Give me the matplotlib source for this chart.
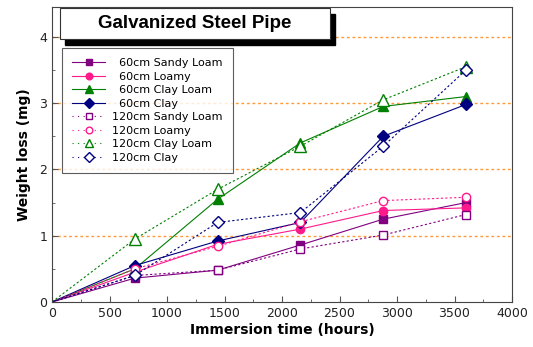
import matplotlib
matplotlib.use('Agg')
import matplotlib.pyplot as plt
from matplotlib.patches import Rectangle

hours = [0, 720, 1440, 2160, 2880, 3600]

# weight loss (mg) per soil type and burial depth
sandy60 = [0, 0.36, 0.48, 0.86, 1.25, 1.50]
loamy60 = [0, 0.45, 0.87, 1.10, 1.38, 1.42]
clayloam60 = [0, 0.50, 1.55, 2.40, 2.95, 3.10]
clay60 = [0, 0.55, 0.92, 1.20, 2.50, 2.98]
sandy120 = [0, 0.40, 0.48, 0.80, 1.01, 1.32]
loamy120 = [0, 0.50, 0.84, 1.21, 1.53, 1.58]
clayloam120 = [0, 0.95, 1.70, 2.35, 3.05, 3.55]
clay120 = [0, 0.40, 1.20, 1.35, 2.35, 3.50]

fs = '\u2007'  # figure space keeps the depth column aligned
labels = [fs + '60cm Sandy Loam', fs + '60cm Loamy', fs + '60cm Clay Loam', fs + '60cm Clay',
	'120cm Sandy Loam', '120cm Loamy', '120cm Clay Loam', '120cm Clay']

fig = plt.figure(figsize=(5.33, 3.47), dpi=100)
ax = fig.add_axes([0.0976, 0.1297, 0.863, 0.85])

purple = '#800080'
pink = '#ff1a8c'
green = '#008000'
navy = '#000080'
mk = range(1, 6)
dash = (0, (2, 2))

ax.plot(hours, sandy60, color=purple, lw=0.8, marker='s', ms=6, markevery=mk, label=labels[0])
ax.plot(hours, loamy60, color=pink, lw=0.8, marker='o', ms=6, markevery=mk, label=labels[1])
ax.plot(hours, clayloam60, color=green, lw=0.8, marker='^', ms=7, markevery=mk, label=labels[2])
ax.plot(hours, clay60, color=navy, lw=0.8, marker='D', ms=6, markevery=mk, label=labels[3])
ax.plot(hours, sandy120, color=purple, lw=0.8, ls=dash, marker='s', ms=6, mfc='white', markevery=mk, label=labels[4])
ax.plot(hours, loamy120, color=pink, lw=0.8, ls=dash, marker='o', ms=6, mfc='white', markevery=mk, label=labels[5])
ax.plot(hours, clayloam120, color=green, lw=0.8, ls=dash, marker='^', ms=8, mfc='white', markevery=mk, label=labels[6])
ax.plot(hours, clay120, color=navy, lw=0.8, ls=dash, marker='D', ms=6, mfc='white', markevery=mk, label=labels[7])

for yv in [1, 2, 3, 4]:
	ax.axhline(yv, color='#ff9933', lw=1.0, ls=dash, zorder=0)

ax.set_xlim(0, 4000)
ax.set_ylim(0, 4.45)
ax.set_xticks(range(0, 4001, 500))
ax.set_xticks(range(0, 4001, 250), minor=True)
ax.set_yticks([0, 1, 2, 3, 4])
ax.set_yticks([0.5, 1.5, 2.5, 3.5], minor=True)
ax.tick_params(direction='in', labelsize=9, length=4, color='#555555', labelcolor='#222222')
ax.tick_params(which='minor', direction='in', length=2, color='#555555')
for s in ax.spines.values():
	s.set_color('#444444')
ax.set_xlabel('Immersion time (hours)', fontsize=10, fontweight='bold', labelpad=2)
ax.set_ylabel('Weight loss (mg)', fontsize=10, fontweight='bold', labelpad=6)

leg = ax.legend(loc='upper left', bbox_to_anchor=(62 / 533, 1 - 48 / 347), bbox_transform=fig.transFigure,
	fontsize=8, frameon=True, fancybox=False, handlelength=3.0, handletextpad=0.6,
	labelspacing=0.32, borderpad=0.9, borderaxespad=0, markerscale=0.8)
leg.get_frame().set_edgecolor('#333333')
leg.get_frame().set_linewidth(0.8)
for h in leg.get_lines()[4:]:
	h.set_linestyle((0, (1, 4)))

# title box with drop shadow
fig.patches.append(Rectangle((65 / 533, 1 - 45 / 347), 270 / 533, 31 / 347, transform=fig.transFigure,
	facecolor='black', edgecolor='black', zorder=5))
fig.patches.append(Rectangle((60 / 533, 1 - 39 / 347), 270 / 533, 31 / 347, transform=fig.transFigure,
	facecolor='white', edgecolor='#333333', lw=0.8, zorder=6))
fig.text(195 / 533, 1 - 23.5 / 347, 'Galvanized Steel Pipe', ha='center', va='center',
	fontsize=13.5, fontweight='bold', family='Liberation Sans', zorder=7)

fig.savefig('out.png', dpi=100)
